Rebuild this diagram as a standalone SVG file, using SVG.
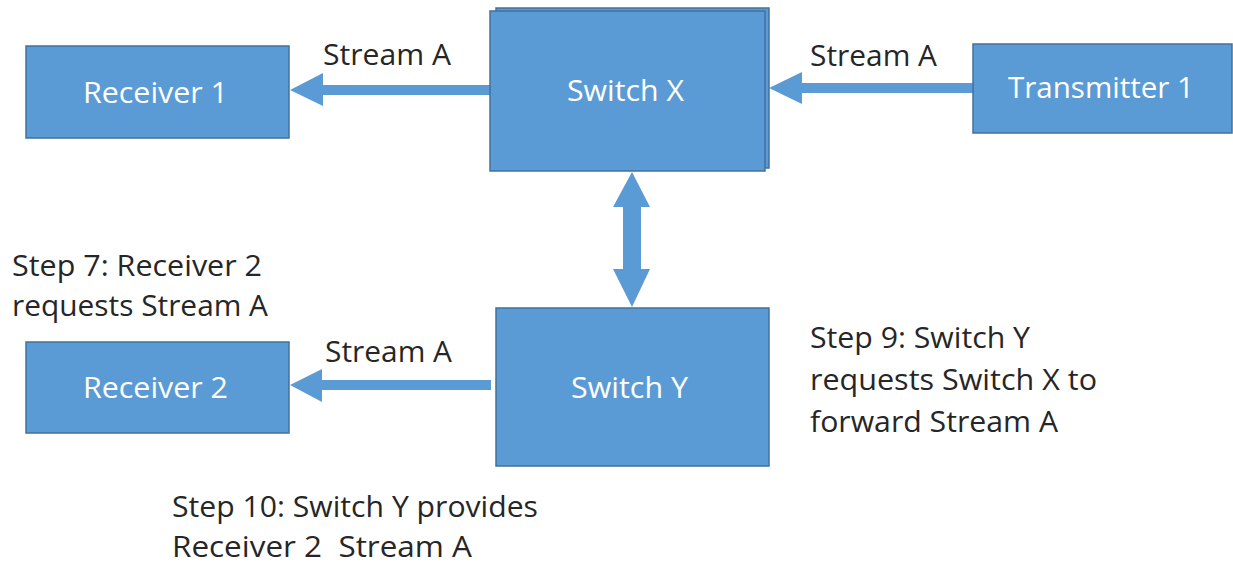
<svg xmlns="http://www.w3.org/2000/svg" width="1233" height="563" viewBox="0 0 1233 563">
<style>
.box{fill:#5B9BD5;stroke:#41719C;stroke-width:1.5}
.arr{fill:#5B9BD5}
.bt{font-family:"Open Sans","Liberation Sans",sans-serif;font-size:29px;fill:#FFFFFF}
.lt{font-family:"Open Sans","Liberation Sans",sans-serif;font-size:29px;fill:#262626}
</style>
<rect width="1233" height="563" fill="#FFFFFF"/>
<g id="connectors">
<polygon class="arr" points="290,90 323,73 323,85 490,85 490,95 323,95 323,106"/>
<polygon class="arr" points="769,88 802,72 802,83 973,83 973,93 802,93 802,104"/>
<polygon class="arr" points="290,385 322,369 322,380 491,380 491,390 322,390 322,402"/>
<polygon class="arr" points="632,172 650,207 641,207 641,269 650,269 632,307 613,269 623,269 623,207 613,207"/>
<text class="lt" x="323" y="65" textLength="128" lengthAdjust="spacingAndGlyphs">Stream A</text>
<text class="lt" x="810" y="66" textLength="127" lengthAdjust="spacingAndGlyphs">Stream A</text>
<text class="lt" x="325" y="362" textLength="127" lengthAdjust="spacingAndGlyphs">Stream A</text>
</g>
<g id="receiver1">
<rect class="box" x="26" y="46" width="263" height="92"/>
<text class="bt" x="83" y="103" textLength="145" lengthAdjust="spacingAndGlyphs">Receiver 1</text>
</g>
<g id="switchX">
<rect class="box" x="496" y="8" width="273" height="160"/>
<rect class="box" x="490" y="11" width="275" height="160"/>
<text class="bt" x="567" y="101" textLength="117" lengthAdjust="spacingAndGlyphs">Switch X</text>
</g>
<g id="transmitter1">
<rect class="box" x="973" y="44" width="259" height="89"/>
<text class="bt" x="1008" y="98" textLength="186" lengthAdjust="spacingAndGlyphs">Transmitter 1</text>
</g>
<g id="receiver2">
<rect class="box" x="26" y="342" width="263" height="91"/>
<text class="bt" x="83" y="398" textLength="145" lengthAdjust="spacingAndGlyphs">Receiver 2</text>
</g>
<g id="switchY">
<rect class="box" x="496" y="308" width="273" height="158"/>
<text class="bt" x="571" y="398" textLength="117" lengthAdjust="spacingAndGlyphs">Switch Y</text>
</g>
<g id="step7">
<text class="lt" x="12" y="276" textLength="250" lengthAdjust="spacingAndGlyphs">Step 7: Receiver 2</text>
<text class="lt" x="12" y="316" textLength="256" lengthAdjust="spacingAndGlyphs">requests Stream A</text>
</g>
<g id="step9">
<text class="lt" x="810" y="348" textLength="220" lengthAdjust="spacingAndGlyphs">Step 9: Switch Y</text>
<text class="lt" x="810" y="390" textLength="287" lengthAdjust="spacingAndGlyphs">requests Switch X to</text>
<text class="lt" x="810" y="432" textLength="248" lengthAdjust="spacingAndGlyphs">forward Stream A</text>
</g>
<g id="step10">
<text class="lt" x="172" y="517" textLength="366" lengthAdjust="spacingAndGlyphs">Step 10: Switch Y provides</text>
<text class="lt" x="172" y="557" textLength="300" lengthAdjust="spacingAndGlyphs" xml:space="preserve">Receiver 2  Stream A</text>
</g>
</svg>
